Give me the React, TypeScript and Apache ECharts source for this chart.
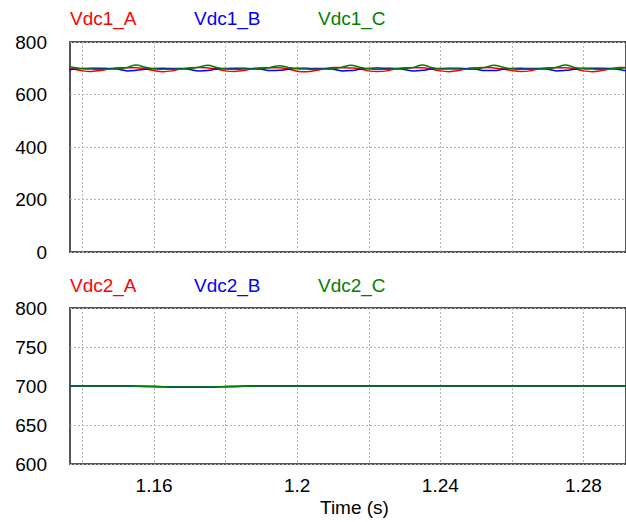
import React, { useEffect, useRef } from "react";
import * as echarts from "echarts";

// ---- data ----
const tTop = [
  1.135, 1.1375, 1.14, 1.1425, 1.145, 1.1475, 1.15, 1.1525,
  1.155, 1.1575, 1.16, 1.1625, 1.165, 1.1675, 1.17, 1.1725,
  1.175, 1.1775, 1.18, 1.1825, 1.185, 1.1875, 1.19, 1.1925,
  1.195, 1.1975, 1.2, 1.2025, 1.205, 1.2075, 1.21, 1.2125,
  1.215, 1.2175, 1.22, 1.2225, 1.225, 1.2275, 1.23, 1.2325,
  1.235, 1.2375, 1.24, 1.2425, 1.245, 1.2475, 1.25, 1.2525,
  1.255, 1.2575, 1.26, 1.2625, 1.265, 1.2675, 1.27, 1.2725,
  1.275, 1.2775, 1.28, 1.2825, 1.285, 1.2875, 1.29, 1.2925,
  1.295,
];
const vdc1A = [
  701, 697, 690, 688, 691, 698, 702, 702,
  702, 698, 691, 687, 690, 698, 702, 703,
  701, 697, 690, 688, 691, 699, 702, 702,
  702, 697, 689, 687, 691, 698, 703, 702,
  701, 698, 690, 688, 690, 698, 702, 702,
  702, 697, 690, 687, 691, 699, 702, 703,
  701, 697, 691, 688, 690, 698, 702, 702,
  702, 698, 690, 687, 691, 698, 703, 702,
  701,
];
const vdc1B = [
  691, 696, 699, 700, 700, 699, 696, 690,
  692, 696, 699, 700, 699, 699, 695, 690,
  691, 697, 699, 700, 700, 698, 696, 691,
  692, 696, 700, 700, 699, 699, 696, 690,
  691, 696, 699, 701, 700, 699, 695, 690,
  692, 697, 699, 700, 700, 698, 696, 691,
  691, 696, 699, 700, 699, 699, 696, 690,
  692, 696, 700, 700, 700, 699, 695, 690,
  691,
];
const vdc1C = [
  711, 703, 698, 697, 696, 697, 698, 703,
  712, 704, 698, 696, 696, 697, 699, 704,
  711, 703, 697, 696, 697, 697, 698, 703,
  710, 703, 698, 697, 696, 697, 698, 704,
  711, 704, 698, 696, 696, 697, 699, 703,
  712, 703, 697, 697, 697, 696, 698, 703,
  711, 704, 698, 696, 696, 697, 698, 704,
  712, 703, 698, 697, 696, 697, 699, 703,
  711,
];

const tBottom = [
  1.135, 1.14, 1.145, 1.15, 1.155, 1.16, 1.165, 1.17, 1.175, 1.18, 1.185,
  1.19, 1.195, 1.2, 1.205, 1.21, 1.215, 1.22, 1.225, 1.23, 1.235, 1.24,
  1.245, 1.25, 1.255, 1.26, 1.265, 1.27, 1.275, 1.28, 1.285, 1.29, 1.295,
];
const vdc2A = [
  700.1, 700.0, 700.1, 700.0, 699.8, 699.3, 698.9, 698.7, 698.8, 699.2, 699.7,
  699.9, 700.0, 700.1, 700.0, 700.0, 700.1, 700.0, 700.0, 700.1, 700.0, 700.0,
  700.1, 700.0, 700.0, 700.1, 700.0, 700.0, 700.1, 700.0, 700.0, 700.1, 700.0,
];
const vdc2B = [
  700.0, 700.1, 700.0, 700.1, 699.8, 699.2, 698.8, 698.6, 698.8, 699.2, 699.7,
  700.0, 700.0, 700.0, 700.1, 700.0, 700.0, 700.1, 700.0, 700.0, 700.1, 700.0,
  700.0, 700.1, 700.0, 700.0, 700.1, 700.0, 700.0, 700.1, 700.0, 700.0, 700.1,
];
const vdc2C = [
  700.1, 700.1, 700.0, 700.0, 699.7, 699.2, 698.8, 698.6, 698.7, 699.1, 699.6,
  699.9, 700.0, 700.1, 700.1, 700.0, 700.0, 700.1, 700.1, 700.0, 700.0, 700.1,
  700.0, 700.0, 700.1, 700.1, 700.0, 700.0, 700.1, 700.0, 700.1, 700.0, 700.0,
];

const topNames = ["Vdc1_A", "Vdc1_B", "Vdc1_C"];
const bottomNames = ["Vdc2_A", "Vdc2_B", "Vdc2_C"];
const xGridValues = [1.14, 1.16, 1.18, 1.2, 1.22, 1.24, 1.26, 1.28];
const xLabelValues = [1.16, 1.2, 1.24, 1.28];
const xAxisTitle = "Time (s)";
const colors = ["#ff0000", "#0000ff", "#008000"];

const FONT = "'Liberation Sans', Arial, sans-serif";

function zip(t: number[], v: number[]) {
  return t.map((x, i) => [x, v[i]]);
}

export default function App() {
  const ref = useRef<HTMLDivElement>(null);
  useEffect(() => {
    if (!ref.current) return;
    const chart = echarts.init(ref.current, undefined, { renderer: "svg" });
    const xMin = 1.1365;
    const xMax = 1.2919;
    const split = {
      show: true,
      lineStyle: { color: "#b4b4b4", type: [2, 2] as any, width: 1 },
    };
    const xBase = {
      type: "value" as const,
      min: xMin,
      max: xMax,
      axisLine: { show: false },
      axisTick: { show: false, customValues: xGridValues },
      splitLine: split,
    };
    const legendTexts = (names: string[], y: number) =>
      names.map((n, i) => ({
        type: "text",
        left: [70, 194, 318][i],
        top: y,
        style: {
          text: n,
          fill: colors[i],
          font: `19px ${FONT}`,
        },
      }));
    const series: any[] = [];
    [vdc1A, vdc1B, vdc1C].forEach((v, i) =>
      series.push({
        name: topNames[i],
        type: "line",
        xAxisIndex: 0,
        yAxisIndex: 0,
        data: zip(tTop, v),
        smooth: 0.4,
        symbol: "none",
        lineStyle: { color: colors[i], width: 1.5 },
        itemStyle: { color: colors[i] },
      })
    );
    [vdc2A, vdc2B, vdc2C].forEach((v, i) =>
      series.push({
        name: bottomNames[i],
        type: "line",
        xAxisIndex: 1,
        yAxisIndex: 1,
        data: zip(tBottom, v),
        smooth: true,
        symbol: "none",
        lineStyle: { color: colors[i], width: 1.5 },
        itemStyle: { color: colors[i] },
      })
    );
    chart.setOption({
      animation: false,
      backgroundColor: "#ffffff",
      textStyle: { fontFamily: FONT },
      grid: [
        {
          left: 70, top: 42, width: 557, height: 210,
          show: true, borderColor: "#555555", borderWidth: 2,
        },
        {
          left: 70, top: 308, width: 557, height: 156,
          show: true, borderColor: "#555555", borderWidth: 2,
        },
      ],
      xAxis: [
        { ...xBase, gridIndex: 0, axisLabel: { show: false, customValues: xLabelValues } },
        {
          ...xBase,
          gridIndex: 1,
          axisLabel: {
            show: true,
            customValues: xLabelValues,
            margin: 12,
            fontSize: 19,
            color: "#000",
            fontFamily: FONT,
            formatter: (v: number) => String(Math.round(v * 100) / 100),
          },
        },
      ],
      yAxis: [
        {
          type: "value", gridIndex: 0, min: 0, max: 800, interval: 200,
          axisLine: { show: false }, axisTick: { show: false },
          splitLine: split,
          axisLabel: { margin: 23, fontSize: 19, color: "#000", fontFamily: FONT },
        },
        {
          type: "value", gridIndex: 1, min: 600, max: 800, interval: 50,
          axisLine: { show: false }, axisTick: { show: false },
          splitLine: split,
          axisLabel: { margin: 23, fontSize: 19, color: "#000", fontFamily: FONT },
        },
      ],
      graphic: [
        ...legendTexts(topNames, 9),
        ...legendTexts(bottomNames, 276),
        {
          type: "text",
          left: 320,
          top: 498,
          style: { text: xAxisTitle, fill: "#000", font: `19px ${FONT}` },
        },
      ],
      series,
    });
    return () => chart.dispose();
  }, []);
  return (
    <div
      ref={ref}
      style={{ position: "fixed", left: 0, top: 0, width: 626, height: 522, background: "#fff" }}
    />
  );
}
